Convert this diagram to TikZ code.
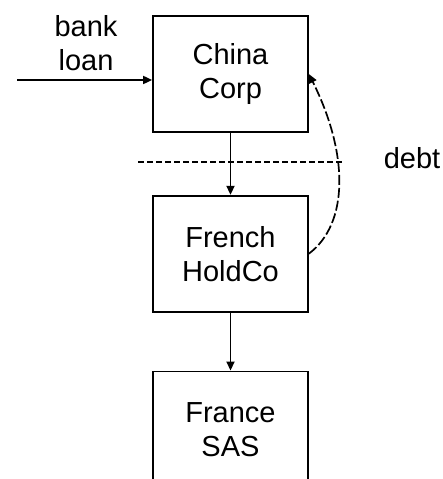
\documentclass[tikz,border=0pt]{standalone}
\usepackage{fontspec}
\setmainfont{Liberation Sans}
\usetikzlibrary{positioning, arrows.meta}

\begin{document}
\begin{tikzpicture}[
                    x=1pt, y=1pt,
                    line width=1.7pt,
                    >={Triangle[length=9pt,width=8pt]},
                    every node/.style={font=\fontsize{29}{34}\selectfont, align=center},
                    entity/.style={draw, minimum width=155pt, minimum height=116pt, inner sep=0pt},
                    link/.style={->},
                    cut/.style={dash pattern=on 6pt off 3pt}
                ]
                \useasboundingbox (0,0) rectangle (442,479);
                % the three companies
                \node[entity] (china) at (230.5,405) {China\\Corp};
                \node[entity, below=62pt of china] (french) {French\\HoldCo};
                \node[entity, below=58pt of french] (france) {France\\SAS};
                \draw[link] (china) -- (french);
                \draw[link] (french) -- (france);
                % funding
                \coordinate (lender) at (17,399);
                \node (bank) at (86,436) {bank\\loan};
                \draw[link] (lender) -- (lender -| china.west);
                % debt push-down
                \coordinate (cutL) at (138,317);
                \coordinate (cutR) at (342,317);
                \draw[cut] (cutL) -- (cutR);
                \node[anchor=base west, inner sep=0pt] (debt) at (383,310) {debt};
                \draw[link, dash pattern=on 10pt off 3pt] (french.east)
                    .. controls +(40,30) and +(40,-80) .. (china.east);
\end{tikzpicture}
\end{document}
